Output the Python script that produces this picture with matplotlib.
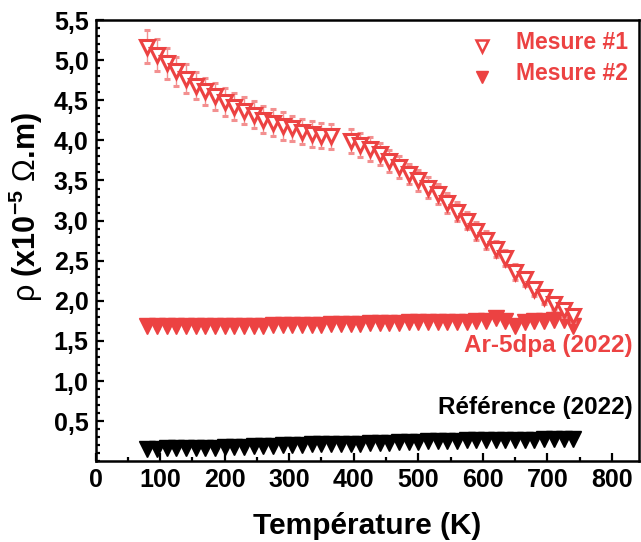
import matplotlib
matplotlib.use("Agg")
import matplotlib.pyplot as plt
from matplotlib.ticker import MultipleLocator, FuncFormatter

plt.rcParams['font.family'] = ['Liberation Sans', 'DejaVu Sans']
plt.rcParams['font.weight'] = 'bold'
plt.rcParams['mathtext.fontset'] = 'custom'
plt.rcParams['mathtext.rm'] = 'Liberation Sans:weight=normal'
plt.rcParams['mathtext.bf'] = 'Liberation Sans:bold'

# Mesure #1 (open triangles, gap between 365 and 395 K)
t_m1 = [80, 95, 110, 125, 140, 155, 170, 185, 200, 215, 230, 245, 260, 275, 290,
        305, 320, 335, 350, 365,
        395, 410, 425, 440, 455, 470, 485, 500, 515, 530, 545, 560, 575, 590,
        605, 620, 635, 650, 665, 680, 695, 710, 725, 740]
rho_m1 = [5.17, 5.06, 4.96, 4.86, 4.77, 4.68, 4.61, 4.55, 4.48, 4.42, 4.37, 4.32,
          4.26, 4.22, 4.18, 4.15, 4.11, 4.08, 4.06, 4.05,
          3.99, 3.94, 3.89, 3.83, 3.74, 3.67, 3.58, 3.50, 3.41, 3.33, 3.22, 3.11,
          3.00, 2.87, 2.76, 2.64, 2.53, 2.36, 2.27, 2.15, 2.05, 1.96, 1.88, 1.81]
err_m1 = [0.21, 0.20, 0.19, 0.18, 0.18, 0.17, 0.17, 0.17, 0.17, 0.17, 0.17, 0.17,
          0.17, 0.17, 0.17, 0.16, 0.16, 0.16, 0.16, 0.16,
          0.15, 0.15, 0.15, 0.14, 0.14, 0.14, 0.13, 0.13, 0.13, 0.12, 0.12, 0.12,
          0.11, 0.11, 0.11, 0.10, 0.10, 0.10, 0.09, 0.09, 0.09, 0.08, 0.08, 0.08]

# Mesure #2 and reference share the same temperatures
t_all = [80, 95, 110, 125, 140, 155, 170, 185, 200, 215, 230, 245, 260, 275, 290,
         305, 320, 335, 350, 365, 380, 395, 410, 425, 440, 455, 470, 485, 500,
         515, 530, 545, 560, 575, 590, 605, 620, 635, 650, 665, 680, 695, 710,
         725, 740]
rho_m2 = [1.69, 1.68, 1.68, 1.68, 1.68, 1.68, 1.68, 1.68, 1.69, 1.69, 1.69, 1.69,
          1.69, 1.70, 1.70, 1.70, 1.70, 1.70, 1.70, 1.71, 1.71, 1.71, 1.71, 1.72,
          1.72, 1.72, 1.72, 1.73, 1.73, 1.73, 1.73, 1.74, 1.74, 1.74, 1.75, 1.75,
          1.78, 1.75, 1.69, 1.74, 1.75, 1.75, 1.76, 1.76, 1.69]
err_m2 = [0.03] * 45
rho_ref = [0.15, 0.15, 0.16, 0.16, 0.16, 0.17, 0.17, 0.17, 0.18, 0.18, 0.18, 0.19,
           0.19, 0.19, 0.20, 0.20, 0.20, 0.21, 0.21, 0.21, 0.22, 0.22, 0.22, 0.23,
           0.23, 0.23, 0.24, 0.24, 0.24, 0.25, 0.25, 0.25, 0.25, 0.26, 0.26, 0.26,
           0.26, 0.27, 0.27, 0.27, 0.27, 0.28, 0.28, 0.28, 0.28]

red = '#EC4242'
red_err = '#F39090'

fig = plt.figure(figsize=(6.41, 5.42), dpi=100)
ax = fig.add_axes([0.149, 0.149, 0.848, 0.814])

ax.errorbar(t_all, rho_m2, yerr=err_m2, fmt='v', color=red, ms=11, mec=red,
            ecolor=red_err, elinewidth=1, capsize=2.5, zorder=3)
ax.errorbar(t_m1, rho_m1, yerr=err_m1, fmt='v', mfc='white', mec=red, ms=10,
            mew=2.2, ecolor=red_err, elinewidth=1, capsize=2.5, zorder=4)
ax.plot(t_all, rho_ref, 'v', color='black', ms=11.5, zorder=3)

# legend drawn by hand like the original
ax.plot([599], [5.18], 'v', mfc='white', mec=red, ms=8, mew=1.8)
ax.plot([599], [4.79], 'v', color=red, ms=9)
ax.text(651, 5.22, 'Mesure #1', color=red, fontsize=16.5, fontweight='bold', va='center')
ax.text(651, 4.83, 'Mesure #2', color=red, fontsize=16.5, fontweight='bold', va='center')

ax.text(832, 1.44, 'Ar-5dpa (2022)', color=red, fontsize=17.5, fontweight='bold',
        ha='right', va='center')
ax.text(832, 0.67, 'Référence (2022)', color='black', fontsize=17.5, fontweight='bold',
        ha='right', va='center')

ax.set_xlim(0, 842)
ax.set_ylim(0, 5.5)
ax.xaxis.set_major_locator(MultipleLocator(100))
ax.xaxis.set_minor_locator(MultipleLocator(50))
ax.set_yticks([0.5, 1.0, 1.5, 2.0, 2.5, 3.0, 3.5, 4.0, 4.5, 5.0, 5.5])
ax.yaxis.set_minor_locator(MultipleLocator(0.1))
ax.yaxis.set_major_formatter(FuncFormatter(lambda v, p: f'{v:.1f}'.replace('.', ',')))

ax.tick_params(which='both', direction='in', top=False, right=False, width=1.6)
ax.tick_params(which='major', length=6, labelsize=18, pad=5)
ax.tick_params(which='minor', length=3)
for lab in ax.get_xticklabels() + ax.get_yticklabels():
    lab.set_fontweight('bold')
for s in ax.spines.values():
    s.set_linewidth(1.8)

ax.set_xlabel('Température (K)', fontsize=21.5, fontweight='bold', labelpad=14)
ax.set_ylabel(r'$\mathrm{ρ}$ (x10$^{\mathbf{-5}}$ $\mathrm{Ω}$.m)', fontsize=22,
              fontweight='bold')
ax.yaxis.set_label_coords(-0.093, 0.575)

fig.savefig('out.png', dpi=100)
